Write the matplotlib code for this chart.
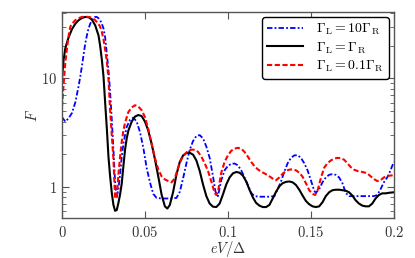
import matplotlib
matplotlib.use("Agg")
import matplotlib.pyplot as plt
from matplotlib.ticker import NullFormatter, LogLocator

plt.rcParams['mathtext.fontset'] = 'cm'
plt.rcParams['font.family'] = ['DejaVu Serif']

# Gamma_L = Gamma_R (black)
x_eq = [0.000, 0.001, 0.002, 0.003, 0.004, 0.006, 0.008, 0.010, 0.012, 0.014, 0.016, 0.018,
        0.020, 0.022, 0.023, 0.024, 0.025, 0.026, 0.027, 0.028, 0.029, 0.030, 0.031, 0.032,
        0.033, 0.034, 0.035, 0.036, 0.037, 0.038, 0.039, 0.040, 0.042, 0.044, 0.046, 0.048,
        0.050, 0.052, 0.054, 0.056, 0.058, 0.060, 0.062, 0.0635, 0.065, 0.067, 0.069, 0.071,
        0.073, 0.075, 0.077, 0.079, 0.081, 0.083, 0.085, 0.087, 0.089, 0.091, 0.093, 0.095,
        0.097, 0.099, 0.101, 0.103, 0.105, 0.107, 0.109, 0.111, 0.113, 0.115, 0.117, 0.119,
        0.121, 0.123, 0.125, 0.127, 0.129, 0.131, 0.133, 0.135, 0.137, 0.139, 0.141, 0.143,
        0.145, 0.147, 0.149, 0.151, 0.153, 0.155, 0.157, 0.159, 0.161, 0.163, 0.165, 0.167,
        0.169, 0.171, 0.173, 0.175, 0.177, 0.179, 0.181, 0.183, 0.185, 0.187, 0.189, 0.191,
        0.193, 0.195, 0.197, 0.200]
F_eq = [10, 15, 19, 21.5, 24, 28.5, 32, 34.5, 36.2, 37, 36.8, 35,
        31, 25, 20, 15, 10.5, 6, 3.5, 1.9, 1.25, 0.88, 0.68, 0.6,
        0.61, 0.71, 0.85, 1.07, 1.55, 2.2, 2.8, 3.3, 4.0, 4.45, 4.6, 4.5,
        4.0, 3.3, 2.5, 1.8, 1.25, 0.85, 0.66, 0.63, 0.68, 0.9, 1.3, 1.7,
        1.95, 2.05, 2.06, 1.98, 1.75, 1.4, 1.05, 0.82, 0.7, 0.655, 0.65, 0.7,
        0.85, 1.05, 1.22, 1.33, 1.37, 1.35, 1.27, 1.12, 0.94, 0.8, 0.71, 0.67,
        0.65, 0.65, 0.68, 0.78, 0.9, 1.01, 1.08, 1.11, 1.12, 1.1, 1.04, 0.94,
        0.83, 0.74, 0.69, 0.66, 0.65, 0.66, 0.72, 0.82, 0.89, 0.93, 0.94, 0.94,
        0.93, 0.92, 0.89, 0.83, 0.75, 0.7, 0.67, 0.66, 0.66, 0.7, 0.78, 0.84,
        0.87, 0.87, 0.88, 0.89]

# Gamma_L = 10 Gamma_R (blue)
x_10 = [0.000, 0.002, 0.004, 0.006, 0.008, 0.010, 0.011, 0.012, 0.013, 0.014, 0.015, 0.016,
        0.017, 0.018, 0.019, 0.020, 0.021, 0.022, 0.023, 0.024, 0.025, 0.026, 0.027, 0.028,
        0.029, 0.030, 0.031, 0.032, 0.033, 0.034, 0.035, 0.036, 0.037, 0.038, 0.039, 0.041,
        0.043, 0.045, 0.047, 0.049, 0.051, 0.053, 0.055, 0.057, 0.060, 0.063, 0.066, 0.069,
        0.071, 0.073, 0.075, 0.077, 0.079, 0.081, 0.083, 0.085, 0.087, 0.089, 0.091, 0.0925,
        0.094, 0.096, 0.098, 0.100, 0.102, 0.104, 0.106, 0.108, 0.110, 0.112, 0.114, 0.116,
        0.119, 0.122, 0.125, 0.128, 0.130, 0.132, 0.134, 0.136, 0.138, 0.140, 0.142, 0.144,
        0.146, 0.148, 0.150, 0.152, 0.153, 0.155, 0.157, 0.159, 0.161, 0.163, 0.165, 0.167,
        0.169, 0.171, 0.173, 0.176, 0.180, 0.184, 0.188, 0.190, 0.192, 0.194, 0.196, 0.198,
        0.200]
F_10 = [4.4, 4.0, 4.3, 4.8, 6.0, 8.5, 10.4, 13, 16.5, 21, 25, 29,
        32, 34.5, 36.2, 37, 37, 36, 34.5, 32, 29, 24, 17, 12,
        7.5, 4.2, 2.2, 1.1, 0.81, 0.95, 1.3, 1.89, 2.5, 3.0, 3.57, 4.15,
        4.35, 4.0, 3.2, 2.3, 1.5, 1.1, 0.86, 0.79, 0.78, 0.78, 0.78, 0.79,
        0.9, 1.2, 1.65, 2.2, 2.65, 2.95, 3.0, 2.8, 2.35, 1.85, 1.25, 0.9,
        0.82, 1.15, 1.42, 1.56, 1.63, 1.64, 1.58, 1.42, 1.22, 1.04, 0.88, 0.82,
        0.81, 0.81, 0.81, 0.82, 0.95, 1.12, 1.38, 1.65, 1.85, 1.95, 1.96, 1.85,
        1.65, 1.42, 1.15, 0.92, 0.88, 0.95, 1.1, 1.22, 1.29, 1.31, 1.29, 1.22,
        1.08, 0.88, 0.82, 0.82, 0.82, 0.82, 0.82, 0.84, 0.95, 1.1, 1.22, 1.42,
        1.7]

# Gamma_L = 0.1 Gamma_R (red)
x_01 = [0.000, 0.001, 0.002, 0.003, 0.004, 0.005, 0.006, 0.008, 0.010, 0.012, 0.014, 0.016,
        0.018, 0.020, 0.022, 0.023, 0.024, 0.025, 0.026, 0.027, 0.028, 0.029, 0.030, 0.031,
        0.032, 0.033, 0.034, 0.035, 0.036, 0.037, 0.038, 0.040, 0.042, 0.044, 0.046, 0.048,
        0.050, 0.052, 0.054, 0.056, 0.058, 0.060, 0.062, 0.064, 0.066, 0.068, 0.070, 0.072,
        0.074, 0.076, 0.078, 0.080, 0.082, 0.084, 0.086, 0.088, 0.090, 0.092, 0.093, 0.094,
        0.096, 0.098, 0.100, 0.102, 0.104, 0.106, 0.108, 0.110, 0.112, 0.114, 0.116, 0.118,
        0.120, 0.122, 0.124, 0.126, 0.128, 0.129, 0.131, 0.133, 0.135, 0.137, 0.139, 0.141,
        0.143, 0.145, 0.147, 0.149, 0.151, 0.1525, 0.154, 0.156, 0.158, 0.160, 0.162, 0.164,
        0.166, 0.168, 0.170, 0.172, 0.174, 0.176, 0.178, 0.180, 0.182, 0.184, 0.186, 0.188,
        0.190, 0.192, 0.194, 0.196, 0.198, 0.200]
F_01 = [5.5, 9, 14, 19, 25, 30, 32, 34.5, 36, 37, 37.2, 37,
        36.5, 34.5, 32, 30, 27, 23, 18.5, 14.5, 10, 5.1, 3.0, 1.8,
        0.78, 0.8, 1.3, 1.89, 2.6, 3.3, 3.9, 4.9, 5.4, 5.66, 5.5, 5.1,
        4.4, 3.4, 2.5, 1.85, 1.45, 1.25, 1.17, 1.13, 1.1, 1.2, 1.5, 1.8,
        2.0, 2.15, 2.2, 2.2, 2.1, 1.9, 1.65, 1.4, 1.12, 0.88, 0.84, 0.9,
        1.35, 1.7, 1.95, 2.15, 2.25, 2.29, 2.25, 2.1, 1.9, 1.7, 1.55, 1.45,
        1.38, 1.33, 1.28, 1.22, 1.16, 1.15, 1.22, 1.32, 1.4, 1.44, 1.45, 1.42,
        1.35, 1.24, 1.08, 0.93, 0.86, 0.84, 0.92, 1.2, 1.5, 1.65, 1.75, 1.82,
        1.85, 1.84, 1.78, 1.65, 1.52, 1.44, 1.4, 1.38, 1.36, 1.33, 1.25, 1.18,
        1.13, 1.15, 1.22, 1.26, 1.27, 1.28]

labels = [r'$\Gamma_{\rm L}=10\Gamma_{\rm R}$', r'$\Gamma_{\rm L}=\Gamma_{\rm R}$',
          r'$\Gamma_{\rm L}=0.1\Gamma_{\rm R}$']
xticks = [0, 0.05, 0.1, 0.15, 0.2]
xticklabels = [r'$0$', r'$0.05$', r'$0.1$', r'$0.15$', r'$0.2$']
yticks = [1, 10]
yticklabels = [r'$1$', r'$10$']

fig = plt.figure(figsize=(4.15, 2.58), dpi=100)
ax = fig.add_axes([0.1494, 0.155, 0.7996, 0.798])

ax.plot(x_10, F_10, color='blue', lw=1.3, linestyle=(0, (3, 1.2, 1, 1.2)), label=labels[0])
ax.plot(x_eq, F_eq, color='black', lw=1.5, linestyle='-', label=labels[1])
ax.plot(x_01, F_01, color='red', lw=1.5, linestyle=(0, (2.5, 1.2)), label=labels[2])

ax.set_yscale('log')
ax.set_xlim(0, 0.2)
ax.set_ylim(0.515, 41)

ax.set_xticks(xticks)
ax.set_xticklabels(xticklabels, fontsize=10.5)
ax.set_yticks(yticks)
ax.set_yticklabels(yticklabels, fontsize=10.5)
ax.yaxis.set_minor_locator(LogLocator(base=10, subs=range(2, 10)))
ax.yaxis.set_minor_formatter(NullFormatter())

frame_col = '#555555'
for s in ax.spines.values():
    s.set_color(frame_col)
    s.set_linewidth(1.0)
ax.tick_params(which='both', direction='in', top=True, right=True, colors=frame_col,
               labelcolor='#333333')
ax.tick_params(which='major', length=5, width=0.8)
ax.tick_params(which='minor', length=3, width=0.6)
ax.tick_params(axis='x', pad=5)

ax.set_xlabel(r'$eV/\Delta$', fontsize=10.5, color='#333333', labelpad=-1)
ax.set_ylabel(r'$F$', fontsize=10.5, color='#333333', labelpad=1)

leg = ax.legend(loc='upper right', fontsize=10, frameon=True, fancybox=True,
                framealpha=1, edgecolor='black', handlelength=2.6,
                borderaxespad=0.35, labelspacing=0.22, handletextpad=0.9,
                borderpad=0.35)
leg.get_frame().set_linewidth(1.0)

fig.savefig('out.png', dpi=100)
